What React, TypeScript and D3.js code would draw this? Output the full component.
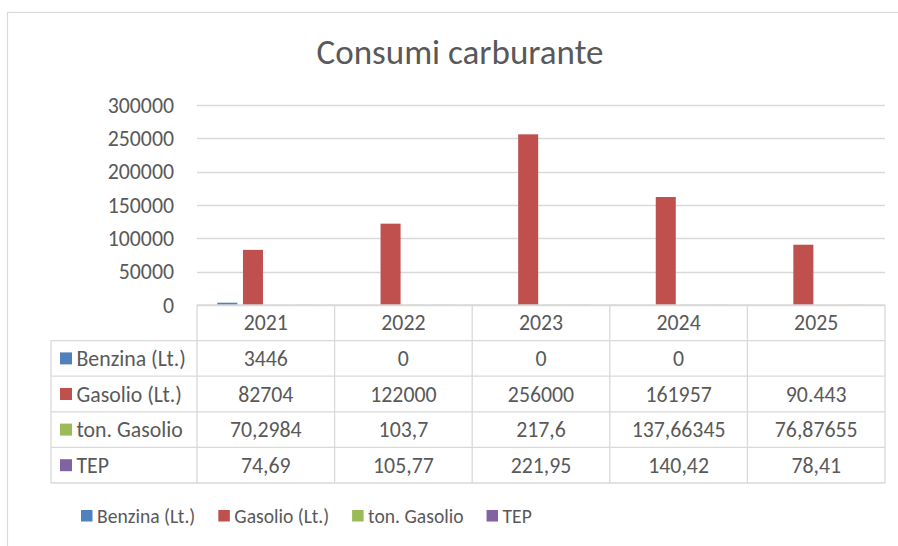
import React, { useEffect, useRef } from 'react';
import * as d3 from 'd3';

const years = ['2021', '2022', '2023', '2024', '2025'];
const seriesNames = ['Benzina (Lt.)', 'Gasolio (Lt.)', 'ton. Gasolio', 'TEP'];
const seriesColors = ['#4f81bd', '#c0504d', '#9bbb59', '#8064a2'];

const benzina: (number | null)[] = [3446, 0, 0, 0, null];
const gasolio: (number | null)[] = [82704, 122000, 256000, 161957, 90443];
const tonGasolio: (number | null)[] = [70.2984, 103.7, 217.6, 137.66345, 76.87655];
const tep: (number | null)[] = [74.69, 105.77, 221.95, 140.42, 78.41];

// the 2025 gasolio cell was typed as text in the sheet
const gasolioText = ['82704', '122000', '256000', '161957', '90.443'];

const yTicks = [0, 50000, 100000, 150000, 200000, 250000, 300000];

const FONT = "Carlito, Calibri, Lato, sans-serif";
const TEXT = '#595959';
const GRID = '#d9d9d9';

const App: React.FC = () => {
  const svgRef = useRef<SVGSVGElement | null>(null);

  useEffect(() => {
    if (!svgRef.current) return;
    const svg = d3.select(svgRef.current);
    svg.selectAll('*').remove();

    const width = 898;
    const height = 546;
    const plotLeft = 197;
    const plotRight = 885;
    const plotTop = 105;
    const plotBottom = 305;
    const tableLeft = 51;
    const tableBottom = 483;

    const allSeries = [benzina, gasolio, tonGasolio, tep];

    // chart frame
    svg.append('rect')
      .attr('x', 7.5).attr('y', 12.5)
      .attr('width', width + 10).attr('height', height + 10)
      .attr('fill', '#fff').attr('stroke', GRID).attr('stroke-width', 1.2);

    svg.append('text')
      .attr('x', 460).attr('y', 64)
      .attr('text-anchor', 'middle')
      .attr('font-family', FONT)
      .attr('font-size', 35)
      .attr('fill', TEXT)
      .text('Consumi carburante');

    const x = d3.scaleBand<string>().domain(years).range([plotLeft, plotRight])
      .paddingInner(0.295).paddingOuter(0.1475);
    const xs = d3.scaleBand<string>().domain(seriesNames).range([0, x.bandwidth()])
      .paddingInner(0.22);
    const y = d3.scaleLinear().domain([0, 300000]).range([plotBottom, plotTop]);

    // gridlines
    svg.append('g').selectAll('line').data(yTicks).enter().append('line')
      .attr('x1', plotLeft).attr('x2', plotRight)
      .attr('y1', d => Math.round(y(d)) + 0.5).attr('y2', d => Math.round(y(d)) + 0.5)
      .attr('stroke', GRID).attr('stroke-width', 1.3);

    svg.append('g').selectAll('text').data(yTicks).enter().append('text')
      .attr('x', 174).attr('y', d => y(d))
      .attr('dy', '0.35em')
      .attr('text-anchor', 'end')
      .attr('font-family', FONT).attr('font-size', 21.8)
      .attr('fill', TEXT)
      .text(d => String(d));

    // bars
    allSeries.forEach((vals, si) => {
      svg.append('g').selectAll('rect')
        .data(vals.map((v, i) => ({ year: years[i], v })).filter(d => d.v != null && d.v > 0))
        .enter().append('rect')
        .attr('x', d => (x(d.year) as number) + (xs(seriesNames[si]) as number))
        .attr('width', xs.bandwidth())
        .attr('y', d => y(d.v as number))
        .attr('height', d => Math.max(0, plotBottom - y(d.v as number)))
        .attr('fill', seriesColors[si]);
    });

    // data table
    const rows = d3.scaleBand<string>().domain(['header', ...seriesNames])
      .range([plotBottom, tableBottom]);
    const cols = d3.scaleBand<string>().domain(years).range([plotLeft, plotRight]);

    const tg = svg.append('g');
    const line = (x1: number, y1: number, x2: number, y2: number) =>
      tg.append('line').attr('x1', x1).attr('y1', y1).attr('x2', x2).attr('y2', y2)
        .attr('stroke', GRID).attr('stroke-width', 1.3);

    // horizontal lines
    line(plotLeft, plotBottom, plotRight, plotBottom);
    seriesNames.forEach(s => line(tableLeft, rows(s) as number, plotRight, rows(s) as number));
    line(tableLeft, tableBottom, plotRight, tableBottom);
    // vertical lines
    line(tableLeft, rows(seriesNames[0]) as number, tableLeft, tableBottom);
    years.forEach(yr => line(cols(yr) as number, plotBottom, cols(yr) as number, tableBottom));
    line(plotRight, plotBottom, plotRight, tableBottom);

    const cellText = (txt: string, cx: number, cy: number, anchor = 'middle') =>
      tg.append('text')
        .attr('x', cx).attr('y', cy).attr('dy', '0.35em')
        .attr('text-anchor', anchor)
        .attr('font-family', FONT).attr('font-size', 21.8)
        .attr('fill', TEXT)
        .text(txt);

    const rh = rows.bandwidth();
    years.forEach(yr => cellText(yr, (cols(yr) as number) + cols.bandwidth() / 2, plotBottom + rh / 2));

    const fmt = (v: number | null) => (v == null ? '' : String(v).replace('.', ','));

    seriesNames.forEach((s, si) => {
      const cy = (rows(s) as number) + rh / 2;
      tg.append('rect')
        .attr('x', 60).attr('y', cy - 6)
        .attr('width', 12).attr('height', 12)
        .attr('fill', seriesColors[si]);
      cellText(s, 76.5, cy, 'start');
      years.forEach((yr, i) => {
        const txt = si === 1 ? gasolioText[i] : fmt(allSeries[si][i]);
        cellText(txt, (cols(yr) as number) + cols.bandwidth() / 2, cy);
      });
    });

    // legend
    const lg = svg.append('g');
    let lx = 81;
    const ly = 516;
    seriesNames.forEach((s, si) => {
      lg.append('rect')
        .attr('x', lx).attr('y', ly - 6)
        .attr('width', 11.5).attr('height', 11.5)
        .attr('fill', seriesColors[si]);
      const t = lg.append('text')
        .attr('x', lx + 16).attr('y', ly).attr('dy', '0.35em')
        .attr('font-family', FONT).attr('font-size', 19.6)
        .attr('fill', TEXT)
        .text(s);
      const w = (t.node() as SVGTextElement).getComputedTextLength();
      lx = lx + 16 + w + 23;
    });
  }, []);

  return (
    <div style={{ position: 'absolute', left: 0, top: 0 }}>
      <svg ref={svgRef} width={898} height={546} style={{ display: 'block' }}></svg>
    </div>
  );
};

export default App;
